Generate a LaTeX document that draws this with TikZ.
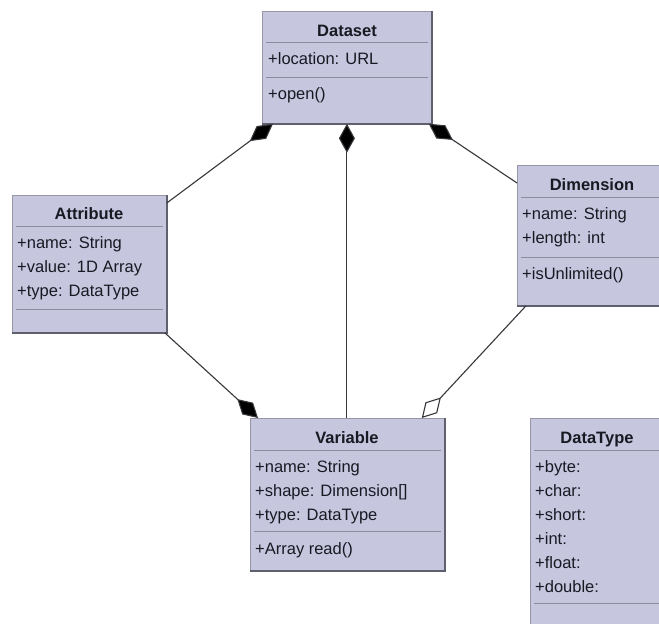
\documentclass[tikz,border=0pt]{standalone}
\usepackage{fontspec}
\setmainfont{Liberation Sans}
\usetikzlibrary{arrows.meta,calc}

\definecolor{boxfill}{RGB}{198,198,222}
\definecolor{boxedge}{RGB}{150,150,165}
\definecolor{boxshade}{RGB}{95,95,110}
\definecolor{sepline}{RGB}{140,140,160}
\definecolor{linkgray}{RGB}{55,55,60}
\definecolor{txt}{RGB}{25,25,35}

\newcommand{\memberfont}{\fontsize{16.5}{19}\selectfont}
\newcommand{\titlefont}{\fontsize{16.5}{19}\selectfont\bfseries}

\tikzset{
  classbox/.style={draw=boxedge, fill=boxfill, anchor=north west, inner sep=0pt, line width=0.8pt},
  member/.style={anchor=base west, inner sep=0pt, font=\memberfont, text=txt},
  ctitle/.style={anchor=base, inner sep=0pt, font=\titlefont, text=txt},
  sepline/.style={draw=sepline, line width=0.9pt},
  shade/.style={draw=boxshade, line width=1.6pt},
  link/.style={draw=linkgray, line width=1.1pt},
  comp/.style={link, {Diamond[length=29pt,width=16pt,fill=black]}-},
  compend/.style={link, -{Diamond[length=28pt,width=16pt,fill=black]}},
  aggend/.style={link, -{Diamond[length=28pt,width=16pt,open,fill=white]}}
}

\begin{document}
\begin{tikzpicture}[x=1pt,y=-1pt]
\clip (0,0) rectangle (659,624);
\fill[white] (0,0) rectangle (659,624);

% ---- Dataset ----
\node[classbox, minimum width=169pt, minimum height=112pt] (dataset) at (262,11) {};
\draw[shade] (dataset.north east) -- (dataset.south east) -- (dataset.south west);
\node[ctitle] (dstitle) at (347,36) {Dataset};
\draw[sepline] ([xshift=4pt]dataset.west |- 0,42) -- ([xshift=-4pt]dataset.east |- 0,42);
\node[member] (dsloc) at (268,64) {+location: URL};
\draw[sepline] ([xshift=4pt]dataset.west |- 0,77) -- ([xshift=-4pt]dataset.east |- 0,77);
\node[member] (dsopen) at (268,99) {+open()};

% ---- Attribute ----
\node[classbox, minimum width=154pt, minimum height=137pt] (attribute) at (12,195) {};
\draw[shade] (attribute.north east) -- (attribute.south east) -- (attribute.south west);
\node[ctitle] (attitle) at (89,219) {Attribute};
\draw[sepline] ([xshift=4pt]attribute.west |- 0,226) -- ([xshift=-4pt]attribute.east |- 0,226);
\node[member] (atname) at (17,248) {+name: String};
\node[member] (atvalue) at (17,272) {+value: 1D Array};
\node[member] (attype) at (17,296) {+type: DataType};
\draw[sepline] ([xshift=4pt]attribute.west |- 0,309) -- ([xshift=-4pt]attribute.east |- 0,309);

% ---- Dimension ----
\node[classbox, minimum width=150pt, minimum height=140pt] (dimension) at (517,165) {};
\draw[shade] (dimension.north east) -- (dimension.south east) -- (dimension.south west);
\node[ctitle] (dmtitle) at (592,190) {Dimension};
\draw[sepline] ([xshift=4pt]dimension.west |- 0,197) -- ([xshift=-4pt]dimension.east |- 0,197);
\node[member] (dmname) at (522,219) {+name: String};
\node[member] (dmlength) at (522,243) {+length: int};
\draw[sepline] ([xshift=4pt]dimension.west |- 0,257) -- ([xshift=-4pt]dimension.east |- 0,257);
\node[member] (dmunl) at (522,279) {+isUnlimited()};

% ---- Variable ----
\node[classbox, minimum width=194pt, minimum height=152pt] (variable) at (250,418) {};
\draw[shade] (variable.north east) -- (variable.south east) -- (variable.south west);
\node[ctitle] (vrtitle) at (347,443) {Variable};
\draw[sepline] ([xshift=4pt]variable.west |- 0,450) -- ([xshift=-4pt]variable.east |- 0,450);
\node[member] (vrname) at (255,472) {+name: String};
\node[member] (vrshape) at (255,496) {+shape: Dimension[]};
\node[member] (vrtype) at (255,520) {+type: DataType};
\draw[sepline] ([xshift=4pt]variable.west |- 0,531) -- ([xshift=-4pt]variable.east |- 0,531);
\node[member] (vrread) at (255,554) {+Array read()};

% ---- DataType ----
\node[classbox, minimum width=135pt, minimum height=220pt] (datatype) at (530,418) {};
\draw[shade] (datatype.north east) -- (datatype.south east);
\node[ctitle] (dttitle) at (597,443) {DataType};
\draw[sepline] ([xshift=4pt]datatype.west |- 0,450) -- ([xshift=-4pt]datatype.east |- 0,450);
\node[member] (dtbyte) at (535,472) {+byte:};
\node[member] (dtchar) at (535,496) {+char:};
\node[member] (dtshort) at (535,520) {+short:};
\node[member] (dtint) at (535,544) {+int:};
\node[member] (dtfloat) at (535,568) {+float:};
\node[member] (dtdouble) at (535,592) {+double:};
\draw[sepline] ([xshift=4pt]datatype.west |- 0,603) -- ([xshift=-4pt]datatype.east |- 0,603);

% ---- associations ----
\draw[comp] ([xshift=11pt]dataset.south west) -- ([yshift=-8pt]attribute.north east);
\draw[comp] (dataset.south) -- (variable.north -| dataset.south);
\draw[comp] ([xshift=-3pt]dataset.south east) -- ([yshift=-18pt]dimension.north west);
\draw[compend] ([xshift=-2pt]attribute.south east) -- ([xshift=8pt]variable.north west);
\draw[aggend] ([xshift=9pt]dimension.south west) -- ([xshift=-23pt]variable.north east);
\end{tikzpicture}
\end{document}
